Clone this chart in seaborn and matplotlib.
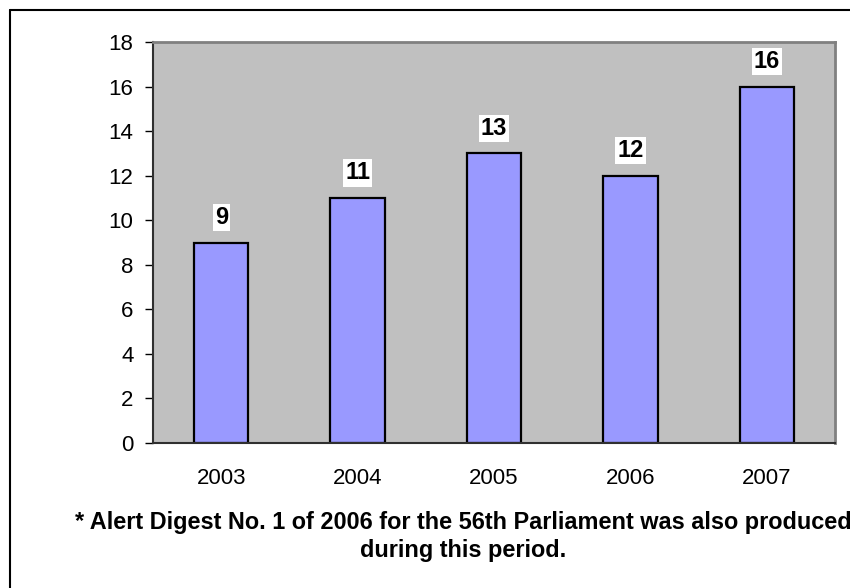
import matplotlib
matplotlib.use('Agg')
import matplotlib.pyplot as plt
from matplotlib.lines import Line2D
import seaborn as sns
import pandas as pd

years = ['2003', '2004', '2005', '2006', '2007']
digests = [9, 11, 13, 12, 16]
y_ticks = [0, 2, 4, 6, 8, 10, 12, 14, 16, 18]
footnote_1 = '* Alert Digest No. 1 of 2006 for the 56th Parliament was also produced'
footnote_2 = 'during this period.'

sns.set_style('white')
plt.rcParams['font.family'] = ['Liberation Sans', 'DejaVu Sans']
plt.rcParams['text.color'] = 'black'
plt.rcParams['xtick.color'] = 'black'
plt.rcParams['ytick.color'] = 'black'

df = pd.DataFrame({'year': years, 'count': digests})

fig = plt.figure(figsize=(8.5, 5.88), dpi=100)
ax = fig.add_axes([153 / 850, 1 - 443 / 588, (835 - 153) / 850, (443 - 42) / 588])
ax.set_facecolor('#C0C0C0')

sns.barplot(data=df, x='year', y='count', color='#9999FF', edgecolor='black',
            linewidth=1.6, width=0.4, saturation=1, ax=ax)

for i, v in enumerate(digests):
    ax.annotate(str(v), (i, v), xytext=(0, 18), textcoords='offset points',
                ha='center', va='center', fontsize=17, fontweight='bold',
                color='black',
                bbox=dict(facecolor='white', edgecolor='none', pad=1.5))

ax.set_ylim(0, 18)
ax.set_xlim(-0.5, 4.5)
ax.set_yticks(y_ticks)
ax.set_xlabel('')
ax.set_ylabel('')

ax.set_xticks(range(len(years)))
ax.set_xticklabels(years)
ax.set_xticks([i - 0.5 for i in range(len(years) + 1)], minor=True)
ax.tick_params(axis='x', which='major', length=0, pad=18, labelsize=16)
ax.tick_params(axis='x', which='minor', length=5, width=1, color='#404040', direction='out')
ax.tick_params(axis='y', length=6, width=1, color='black', pad=8, labelsize=16, left=True)

for side in ['top', 'right']:
    ax.spines[side].set_color('#808080')
    ax.spines[side].set_linewidth(2)
for side in ['left', 'bottom']:
    ax.spines[side].set_color('#303030')
    ax.spines[side].set_linewidth(1.5)

fig.text(463 / 850, 1 - 523 / 588, footnote_1, ha='center', va='center',
         fontsize=16.9, fontweight='bold')
fig.text(463 / 850, 1 - 551 / 588, footnote_2, ha='center', va='center',
         fontsize=16.9, fontweight='bold')

# outer frame (top and left edges only are visible)
fig.add_artist(Line2D([10 / 850, 1.0], [1 - 10 / 588, 1 - 10 / 588],
                      transform=fig.transFigure, color='black', linewidth=1.5))
fig.add_artist(Line2D([10 / 850, 10 / 850], [1 - 10 / 588, 0.0],
                      transform=fig.transFigure, color='black', linewidth=1.5))

fig.savefig('out.png', dpi=100)
